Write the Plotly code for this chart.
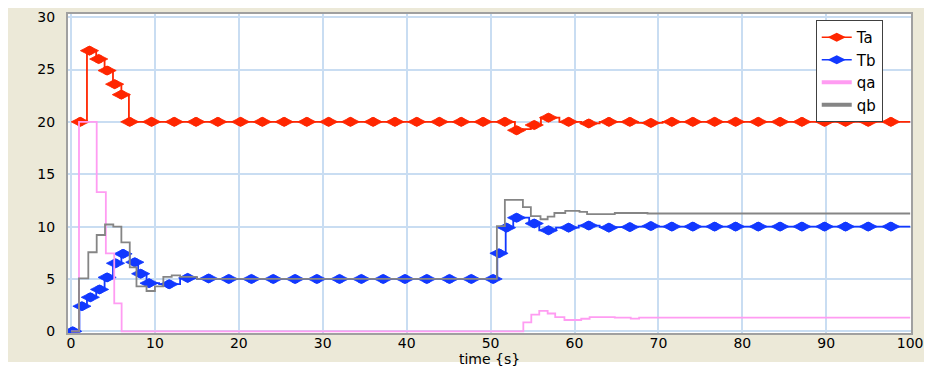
import plotly.graph_objects as go

# ---------------- data ----------------
# Ta : step line + sampled markers
ta_t = [1.0, 1.9, 3.0, 4.0, 5.0, 6.0, 6.9, 52.9, 53.85, 54.8, 56.0, 58.2, 60.8, 63.0, 67.5, 70.5, 100.0]
ta_v = [20.0, 26.8, 26.0, 24.9, 23.6, 22.6, 20.0, 19.2, 19.3, 19.7, 20.4, 20.0, 19.85, 20.0, 19.9, 20.0, 20.0]
ta_mark_t = [1.1, 2.2, 3.3, 4.3, 5.2, 6.0, 7.0, 9.6, 12.3, 14.9, 17.5, 20.2, 22.8, 25.4, 28.1, 30.7,
             33.3, 36.0, 38.6, 41.2, 43.9, 46.5, 49.1, 51.7, 53.1, 55.2, 56.9, 59.3, 61.7, 64.1,
             66.6, 69.1, 71.6, 74.1, 76.7, 79.2, 81.9, 84.5, 87.1, 89.8, 92.3, 95.0, 97.7]
ta_mark_v = [20.0, 26.8, 26.0, 24.9, 23.6, 22.6, 20.0, 20.0, 20.0, 20.0, 20.0, 20.0, 20.0, 20.0, 20.0, 20.0,
             20.0, 20.0, 20.0, 20.0, 20.0, 20.0, 20.0, 20.0, 19.2, 19.7, 20.4, 20.0, 19.85, 20.0,
             20.0, 19.9, 20.0, 20.0, 20.0, 20.0, 20.0, 20.0, 20.0, 20.0, 20.0, 20.0, 20.0]

# Tb : step line + sampled markers
tb_t = [0.0, 1.0, 1.9, 3.0, 4.0, 5.0, 6.0, 7.0, 8.0, 9.0, 10.5, 13.0, 15.0, 50.8, 51.8, 52.7,
        54.6, 55.8, 57.8, 60.5, 63.0, 66.0, 100.0]
tb_v = [0.0, 2.4, 3.25, 4.0, 5.15, 6.5, 7.4, 6.6, 5.5, 4.6, 4.5, 5.1, 5.0, 7.45, 9.9, 10.85,
        10.3, 9.65, 9.9, 10.1, 9.95, 10.0, 10.0]
tb_mark_t = [0.2, 1.3, 2.3, 3.4, 4.3, 5.3, 6.2, 7.6, 8.3, 9.3, 11.7, 13.9, 16.4, 18.8, 21.5, 24.1,
             26.7, 29.3, 32.0, 34.6, 37.2, 39.8, 42.4, 45.1, 47.7, 50.3, 51.0, 51.9, 53.1, 55.2,
             56.9, 59.3, 61.7, 64.1, 66.6, 69.1, 71.6, 74.1, 76.7, 79.2, 81.9, 84.5, 87.1, 89.8,
             92.3, 95.0, 97.7]
tb_mark_v = [0.0, 2.4, 3.25, 4.0, 5.15, 6.5, 7.4, 6.6, 5.5, 4.6, 4.5, 5.1, 5.05, 5.0, 5.0, 5.0,
             5.0, 5.0, 5.0, 5.0, 5.0, 5.0, 5.0, 5.0, 5.0, 5.0, 7.45, 9.9, 10.85, 10.3,
             9.65, 9.9, 10.1, 9.9, 9.95, 10.05, 10.0, 10.0, 10.0, 10.0, 10.0, 10.0, 10.0, 10.0,
             10.0, 10.0, 10.0]

# qa : step line
qa_t = [0.0, 0.95, 3.06, 4.15, 5.15, 6.03, 53.9, 54.85, 55.8, 56.8, 57.7, 58.8, 60.8, 61.8,
        64.8, 66.7, 67.7, 100.0]
qa_v = [0.0, 20.0, 13.3, 7.45, 2.67, 0.0, 0.85, 1.6, 1.95, 1.7, 1.35, 1.08, 1.2, 1.35,
        1.3, 1.22, 1.3, 1.3]

# qb : step line
qb_t = [0.0, 0.95, 2.06, 3.06, 4.05, 5.04, 6.0, 7.0, 7.8, 9.0, 10.0, 11.0, 12.0, 13.0, 15.0,
        50.75, 51.7, 53.85, 54.8, 55.95, 56.8, 57.6, 58.9, 60.6, 61.5, 64.8, 68.7, 100.0]
qb_v = [0.0, 5.05, 7.55, 9.2, 10.2, 10.0, 8.5, 6.1, 4.3, 3.85, 4.3, 5.2, 5.35, 5.2, 5.0,
        10.05, 12.55, 11.85, 11.0, 10.7, 10.95, 11.3, 11.5, 11.4, 11.2, 11.3, 11.25, 11.25]

x_ticks = [0, 10, 20, 30, 40, 50, 60, 70, 80, 90, 100]
y_ticks = [0, 5, 10, 15, 20, 25, 30]
x_title = "time {s}"

# ---------------- styles ----------------
RED = "#FF2600"
BLUE = "#1238FF"
PINK = "#FF9CF2"
GRAY = "#858585"
BEIGE = "#ECE9D8"
GRID = "#C9DDF2"
FONT = "DejaVu Sans"

fig = go.Figure()


def add_marks(xs, ys, color):
    # elongated marker: wide diamond with a round core
    fig.add_trace(go.Scatter(x=xs, y=ys, mode="markers",
                             marker=dict(symbol="diamond-wide", size=13, color=color,
                                         line=dict(color=color, width=0.8)),
                             showlegend=False))
    fig.add_trace(go.Scatter(x=xs, y=ys, mode="markers",
                             marker=dict(symbol="circle", size=9, color=color, line=dict(width=0)),
                             showlegend=False, hoverinfo="skip"))


# Ta
fig.add_trace(go.Scatter(x=ta_t, y=ta_v, mode="lines", line=dict(color=RED, width=1.8, shape="hv"),
                         showlegend=False, hoverinfo="skip"))
add_marks(ta_mark_t, ta_mark_v, RED)
# Tb
fig.add_trace(go.Scatter(x=tb_t, y=tb_v, mode="lines", line=dict(color=BLUE, width=1.8, shape="hv"),
                         showlegend=False, hoverinfo="skip"))
add_marks(tb_mark_t, tb_mark_v, BLUE)
# qa, qb
fig.add_trace(go.Scatter(x=qa_t, y=qa_v, mode="lines", line=dict(color=PINK, width=1.8, shape="hv"),
                         showlegend=False))
fig.add_trace(go.Scatter(x=qb_t, y=qb_v, mode="lines", line=dict(color=GRAY, width=1.8, shape="hv"),
                         showlegend=False))

# legend entries
fig.add_trace(go.Scatter(x=[None], y=[None], mode="lines+markers", name="Ta",
                         line=dict(color=RED, width=1.5),
                         marker=dict(symbol="diamond-wide", size=13, color=RED)))
fig.add_trace(go.Scatter(x=[None], y=[None], mode="lines+markers", name="Tb",
                         line=dict(color=BLUE, width=1.5),
                         marker=dict(symbol="diamond-wide", size=13, color=BLUE)))
fig.add_trace(go.Scatter(x=[None], y=[None], mode="lines", name="qa", line=dict(color=PINK, width=4)))
fig.add_trace(go.Scatter(x=[None], y=[None], mode="lines", name="qb", line=dict(color=GRAY, width=4)))

# the page adds an 8 px body margin, so the figure is sized to fit the window
fig.update_layout(
    width=924, height=359,
    margin=dict(l=60, r=21, t=6, b=34, autoexpand=False),
    paper_bgcolor="white",
    plot_bgcolor="white",
    font=dict(family=FONT, size=14, color="black"),
    shapes=[
        dict(type="rect", xref="paper", yref="paper", x0=-0.08, x1=1.0166, y0=-0.0909, y1=1.05,
             fillcolor=BEIGE, line=dict(width=0), layer="below"),
        dict(type="rect", xref="paper", yref="paper", x0=0, x1=1, y0=0, y1=1,
             fillcolor="white", line=dict(width=0), layer="below"),
    ],
    legend=dict(x=0.887, y=0.981, xanchor="left", yanchor="top",
                bgcolor="white", bordercolor="#404040", borderwidth=1,
                font=dict(family=FONT, size=15, color="black"),
                tracegroupgap=0, itemwidth=30),
    showlegend=True,
)
fig.update_xaxes(range=[-0.36, 100.1], tickvals=x_ticks, ticktext=[str(v) for v in x_ticks],
                 showgrid=True, gridcolor=GRID, gridwidth=2, zeroline=False,
                 showline=True, mirror=True, linecolor="#A0A0A0", linewidth=2,
                 ticks="", ticklabelstandoff=-4, automargin=False,
                 title=dict(text=x_title, standoff=1, font=dict(family=FONT, size=14)))
fig.update_yaxes(range=[-0.16, 30.3], tickvals=y_ticks, ticktext=[str(v) for v in y_ticks],
                 showgrid=True, gridcolor=GRID, gridwidth=1.5, zeroline=False,
                 showline=True, mirror=True, linecolor="#A0A0A0", linewidth=2,
                 ticks="", ticklabelstandoff=8, automargin=False)

fig.write_html("out.html")
